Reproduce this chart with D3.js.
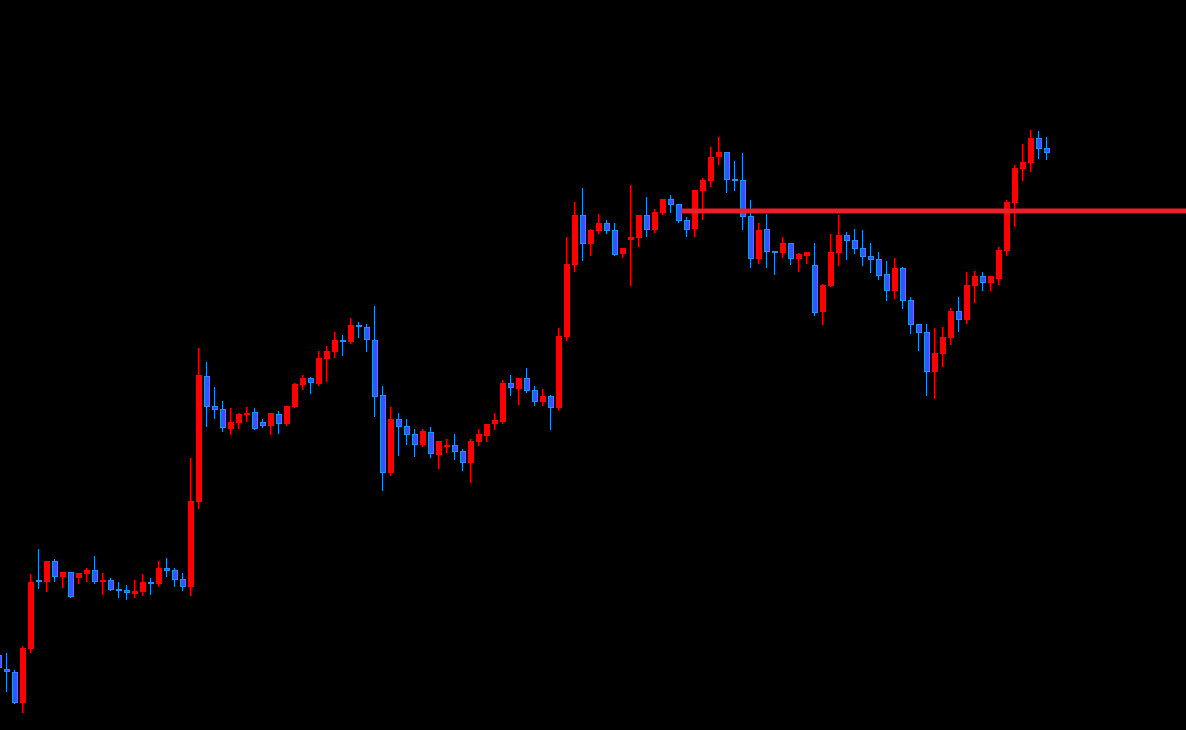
<!DOCTYPE html>
<html>
<head>
<meta charset="utf-8">
<script src="https://cdn.jsdelivr.net/npm/d3@7"></script>
<style>
  html, body { margin: 0; padding: 0; background: #000; overflow: hidden; }
</style>
</head>
<body>
<script>
var width = 1186;
var height = 730;

// bar prices, oldest first
var open = [
  147.725, 147.655, 147.640, 147.485, 147.755, 148.100, 148.090, 148.195, 148.115, 148.140,
  148.110, 148.130, 148.150, 148.090, 148.100, 148.055, 148.050, 148.030, 148.040, 148.090,
  148.080, 148.160, 148.150, 148.105, 148.065, 148.490, 149.120, 148.970, 148.955, 148.855,
  148.885, 148.930, 148.940, 148.890, 148.870, 148.930, 148.880, 148.965, 149.075, 149.110,
  149.080, 149.205, 149.240, 149.300, 149.290, 149.375, 149.365, 149.300, 149.025, 148.635,
  148.905, 148.870, 148.830, 148.775, 148.840, 148.725, 148.765, 148.775, 148.745, 148.685,
  148.790, 148.820, 148.880, 148.890, 149.085, 149.055, 149.110, 149.050, 148.990, 149.020,
  148.960, 149.315, 149.675, 149.925, 149.780, 149.845, 149.885, 149.850, 149.730, 149.800,
  149.810, 149.925, 149.850, 149.935, 150.005, 149.980, 149.900, 149.855, 150.045, 150.095,
  150.215, 150.240, 150.105, 150.100, 149.920, 149.705, 149.855, 149.745, 149.735, 149.785,
  149.705, 149.720, 149.675, 149.440, 149.570, 149.735, 149.825, 149.800, 149.760, 149.720,
  149.705, 149.630, 149.545, 149.660, 149.500, 149.380, 149.340, 149.140, 149.230, 149.310,
  149.445, 149.400, 149.570, 149.620, 149.585, 149.605, 149.745, 149.985, 150.155, 150.185,
  150.310, 150.260
];
var high = [
  147.740, 147.735, 147.650, 147.770, 148.130, 148.255, 148.195, 148.205, 148.140, 148.140,
  148.135, 148.160, 148.220, 148.135, 148.110, 148.090, 148.075, 148.100, 148.130, 148.110,
  148.195, 148.210, 148.160, 148.135, 148.710, 149.260, 149.190, 149.065, 148.995, 148.960,
  148.935, 148.965, 148.960, 148.905, 148.935, 148.945, 148.970, 149.085, 149.125, 149.115,
  149.245, 149.270, 149.340, 149.325, 149.410, 149.390, 149.380, 149.470, 149.070, 148.965,
  148.935, 148.905, 148.855, 148.855, 148.865, 148.795, 148.805, 148.830, 148.755, 148.805,
  148.855, 148.880, 148.935, 149.100, 149.125, 149.110, 149.160, 149.070, 149.055, 149.025,
  149.360, 149.815, 149.990, 150.060, 149.855, 149.930, 149.900, 149.885, 149.760, 150.075,
  149.925, 150.015, 149.955, 150.005, 150.025, 149.980, 149.915, 150.050, 150.110, 150.265,
  150.315, 150.240, 150.195, 150.235, 150.000, 149.885, 149.930, 149.745, 149.815, 149.785,
  149.735, 149.740, 149.785, 149.580, 149.830, 149.925, 149.840, 149.855, 149.850, 149.785,
  149.740, 149.695, 149.710, 149.665, 149.515, 149.380, 149.380, 149.360, 149.365, 149.460,
  149.515, 149.640, 149.645, 149.640, 149.620, 149.765, 150.000, 150.175, 150.280, 150.350,
  150.345, 150.315
];
var low = [
  147.640, 147.545, 147.485, 147.440, 147.740, 148.060, 148.045, 148.095, 148.065, 148.015,
  148.085, 148.095, 148.085, 148.030, 148.050, 148.015, 148.005, 148.015, 148.025, 148.030,
  148.070, 148.120, 148.070, 148.050, 148.025, 148.460, 148.870, 148.910, 148.845, 148.830,
  148.860, 148.895, 148.855, 148.865, 148.830, 148.835, 148.875, 148.965, 149.055, 149.035,
  149.075, 149.095, 149.215, 149.225, 149.285, 149.315, 149.245, 148.920, 148.550, 148.625,
  148.725, 148.780, 148.720, 148.770, 148.715, 148.660, 148.740, 148.705, 148.650, 148.590,
  148.775, 148.795, 148.855, 148.885, 149.025, 148.980, 149.040, 148.975, 148.975, 148.855,
  148.950, 149.300, 149.645, 149.700, 149.725, 149.835, 149.835, 149.725, 149.715, 149.575,
  149.770, 149.820, 149.840, 149.930, 149.940, 149.890, 149.820, 149.820, 149.905, 150.070,
  150.180, 150.040, 150.050, 149.855, 149.665, 149.685, 149.665, 149.630, 149.715, 149.680,
  149.645, 149.685, 149.425, 149.380, 149.570, 149.675, 149.705, 149.735, 149.675, 149.640,
  149.605, 149.500, 149.510, 149.460, 149.335, 149.250, 149.025, 149.010, 149.170, 149.280,
  149.345, 149.385, 149.490, 149.550, 149.550, 149.580, 149.725, 149.870, 150.100, 150.145,
  150.210, 150.205
];
var close = [
  147.660, 147.640, 147.485, 147.760, 148.090, 148.090, 148.195, 148.115, 148.140, 148.015,
  148.135, 148.150, 148.090, 148.100, 148.050, 148.045, 148.035, 148.045, 148.090, 148.080,
  148.160, 148.145, 148.100, 148.065, 148.495, 149.125, 148.965, 148.950, 148.860, 148.890,
  148.930, 148.935, 148.855, 148.870, 148.935, 148.880, 148.970, 149.080, 149.110, 149.085,
  149.210, 149.245, 149.300, 149.290, 149.375, 149.365, 149.300, 149.015, 148.635, 148.905,
  148.865, 148.825, 148.775, 148.845, 148.730, 148.795, 148.775, 148.740, 148.685, 148.795,
  148.830, 148.880, 148.900, 149.085, 149.060, 149.110, 149.045, 148.990, 149.020, 148.960,
  149.320, 149.680, 149.925, 149.780, 149.850, 149.885, 149.845, 149.725, 149.760, 149.815,
  149.925, 149.850, 149.940, 150.005, 149.975, 149.895, 149.850, 150.050, 150.100, 150.215,
  150.240, 150.100, 150.095, 149.915, 149.705, 149.850, 149.740, 149.735, 149.785, 149.705,
  149.730, 149.740, 149.435, 149.575, 149.740, 149.825, 149.795, 149.755, 149.715, 149.700,
  149.620, 149.545, 149.660, 149.495, 149.375, 149.335, 149.140, 149.235, 149.315, 149.445,
  149.400, 149.575, 149.620, 149.585, 149.620, 149.750, 149.990, 150.160, 150.190, 150.310,
  150.255, 150.235
];

// horizontal level, drawn from bar 85 to the right edge
var levelPrice = 149.945;
var levelStart = 85.35;

var upColor = '#ff0000';
var downFill = '#3c50ff';
var downStroke = '#1e90ff';
var levelColor = '#e8202a';

var xRange = d3.scaleLinear().domain([0, open.length - 1]).range([-2, 1046]);
var yRange = d3.scaleLinear().domain([147.35, 151.00]).range([height, 0]);

var bars = d3.range(open.length).map(function (i) {
  return { i: i, o: open[i], h: high[i], l: low[i], c: close[i], up: close[i] > open[i] };
});

var svg = d3.select('body')
            .append('svg')
            .attr('width', width)
            .attr('height', height)
            .style('display', 'block')
            .style('background', '#000');

var candle = svg.selectAll('g.candle')
  .data(bars)
  .enter()
  .append('g')
  .attr('class', 'candle')
  .attr('transform', function (d) { return 'translate(' + Math.round(xRange(d.i)) + ',0)'; });

// wicks
candle.append('line')
  .attr('x1', 0.5)
  .attr('x2', 0.5)
  .attr('y1', function (d) { return Math.round(yRange(d.h)); })
  .attr('y2', function (d) { return Math.round(yRange(d.l)) + 1; })
  .style('stroke', function (d) { return d.up ? upColor : downStroke; })
  .style('stroke-width', 1);

// bodies
candle.append('rect')
  .attr('x', function (d) { return d.up ? -2 : -1.5; })
  .attr('y', function (d) {
    var top = Math.round(yRange(Math.max(d.o, d.c)));
    return d.up ? top : top + 0.5;
  })
  .attr('width', function (d) { return d.up ? 6 : 5; })
  .attr('height', function (d) {
    var top = Math.round(yRange(Math.max(d.o, d.c)));
    var bottom = Math.round(yRange(Math.min(d.o, d.c)));
    var h = Math.max(2, bottom - top);
    return d.up ? h : h - 1;
  })
  .style('fill', function (d) { return d.up ? upColor : downFill; })
  .style('stroke', function (d) { return d.up ? 'none' : downStroke; })
  .style('stroke-width', 1);

// level line on top of the candles
svg.append('line')
  .attr('x1', Math.round(xRange(levelStart)))
  .attr('x2', width)
  .attr('y1', yRange(levelPrice))
  .attr('y2', yRange(levelPrice))
  .style('stroke', levelColor)
  .style('stroke-width', 5);
</script>
</body>
</html>
